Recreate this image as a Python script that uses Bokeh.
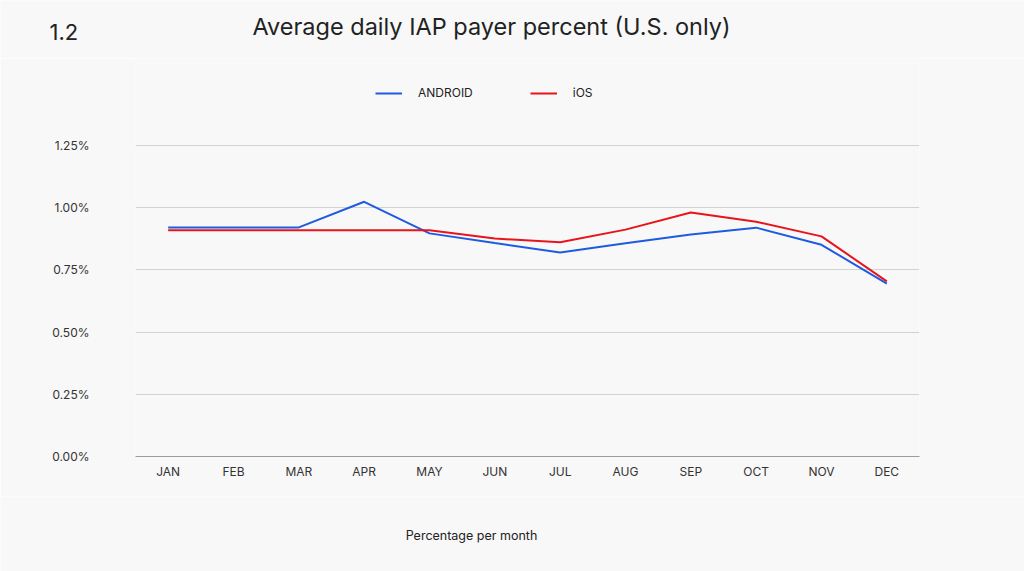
from bokeh.plotting import figure
from bokeh.layouts import column
from bokeh.models import (FactorRange, Range1d, FixedTicker, PrintfTickFormatter,
                          Legend, LegendItem, Label)
from bokeh.embed import file_html
from bokeh.resources import INLINE

months = ["JAN", "FEB", "MAR", "APR", "MAY", "JUN", "JUL", "AUG", "SEP", "OCT", "NOV", "DEC"]
android = [0.921, 0.921, 0.921, 1.024, 0.897, 0.858, 0.820, 0.857, 0.892, 0.920, 0.851, 0.695]
ios = [0.910, 0.910, 0.910, 0.910, 0.910, 0.876, 0.861, 0.912, 0.981, 0.944, 0.885, 0.704]
y_ticks = [0, 0.25, 0.5, 0.75, 1.0, 1.25]

FONT = "Inter"
BG = "#f8f8f8"
W = 1024


def text_strip(height):
    f = figure(width=W, height=height, x_range=Range1d(0, 1), y_range=Range1d(0, 1),
               x_axis_type=None, y_axis_type=None, output_backend="svg",
               toolbar_location=None, min_border=0, outline_line_color=None,
               background_fill_color=BG, border_fill_color=BG)
    f.frame_align = False
    return f


# header with chart number and title
header = text_strip(58)
header.add_layout(Label(x=49, y=27, x_units="screen", y_units="screen", text="1.2",
                        text_align="left", text_baseline="middle",
                        text_font=FONT, text_font_size="22px", text_color="#222222"))
header.add_layout(Label(x=491, y=32, x_units="screen", y_units="screen",
                        text="Average daily IAP payer percent (U.S. only)",
                        text_align="center", text_baseline="middle",
                        text_font=FONT, text_font_size="23.5px", text_color="#222222"))

# main chart
p = figure(width=W, height=438, x_range=FactorRange(*months, range_padding=0),
           y_range=Range1d(0, 1.6), output_backend="svg", toolbar_location=None,
           title=None,
           min_border_left=135, min_border_right=105, min_border_top=0, min_border_bottom=40,
           background_fill_color=BG, border_fill_color=BG, outline_line_color=None)
p.frame_align = False

r_and = p.line(months, android, line_color="#1f5be0", line_width=2)
r_ios = p.line(months, ios, line_color="#e8141c", line_width=2)

p.yaxis.ticker = FixedTicker(ticks=y_ticks)
p.yaxis.formatter = PrintfTickFormatter(format="%.2f%%")
p.yaxis.axis_line_color = None
p.yaxis.major_tick_line_color = None
p.yaxis.minor_tick_line_color = None
p.yaxis.major_tick_out = 0
p.yaxis.major_tick_in = 0
p.yaxis.major_label_standoff = 46
p.yaxis.major_label_text_font = FONT
p.yaxis.major_label_text_font_size = "12px"
p.yaxis.major_label_text_color = "#333333"

p.xaxis.axis_line_color = "#9a9a9a"
p.xaxis.axis_line_width = 1
p.xaxis.major_tick_line_color = None
p.xaxis.minor_tick_line_color = None
p.xaxis.major_tick_out = 0
p.xaxis.major_tick_in = 0
p.xaxis.major_label_standoff = 7
p.xaxis.major_label_text_font = FONT
p.xaxis.major_label_text_font_size = "12px"
p.xaxis.major_label_text_color = "#333333"

p.xgrid.grid_line_color = None
p.ygrid.grid_line_color = "#d2d2d2"
p.ygrid.grid_line_width = 1

legend = Legend(items=[LegendItem(label="ANDROID", renderers=[r_and]),
                       LegendItem(label="iOS", renderers=[r_ios])],
                orientation="horizontal", location=(240, 356),
                padding=0, margin=0, spacing=57, glyph_width=27, glyph_height=12,
                label_height=12, label_standoff=16, border_line_color=None,
                background_fill_alpha=0, label_text_font=FONT,
                label_text_font_size="12px", label_text_color="#222222")
p.add_layout(legend)

# footer with axis caption
footer = text_strip(75)
footer.add_layout(Label(x=471, y=36, x_units="screen", y_units="screen",
                        text="Percentage per month", text_align="center",
                        text_baseline="middle", text_font=FONT,
                        text_font_size="12.5px", text_color="#222222"))

layout = column(header, p, footer, spacing=0)
open("out.html", "w").write(file_html(layout, INLINE))
